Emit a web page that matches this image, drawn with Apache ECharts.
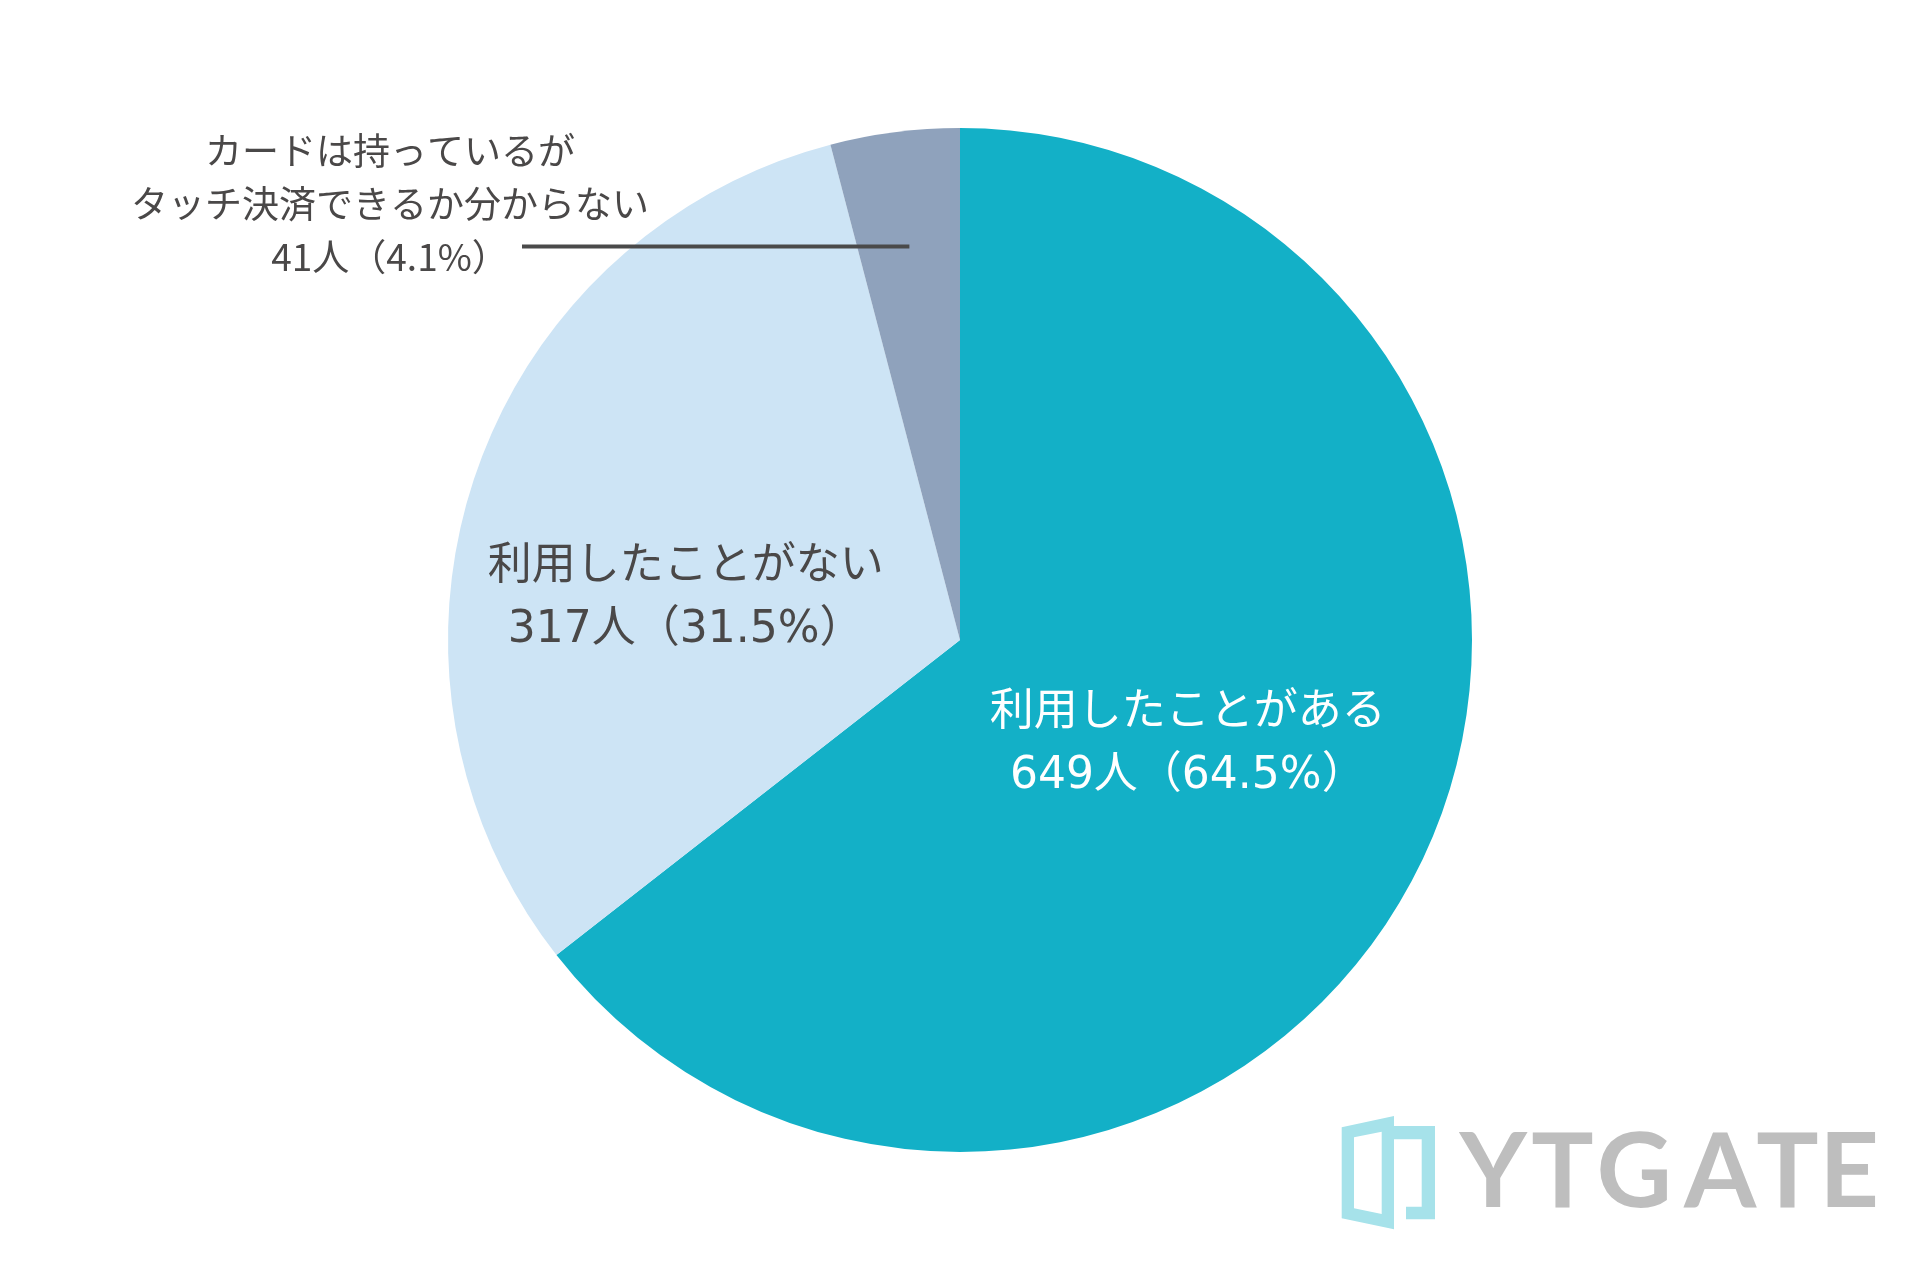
<!DOCTYPE html>
<html>
<head>
<meta charset="utf-8">
<script src="https://cdn.jsdelivr.net/npm/echarts@6/dist/echarts.min.js"></script>
<style>
html,body{margin:0;padding:0;background:#fff;}
#chart{width:1920px;height:1280px;}
</style>
</head>
<body>
<div id="chart"></div>
<script>
const categories = ['利用したことがある', '利用したことがない', 'カードは持っているが\nタッチ決済できるか分からない'];
const counts = [649, 317, 41];
const percents = ['64.5', '31.5', '4.1'];
const colors = ['#13B0C7', '#CDE4F5', '#8FA2BC'];
const labelColors = ['#ffffff', '#4a4848', '#4a4848'];

const chart = echarts.init(document.getElementById('chart'), null, {renderer: 'canvas'});
const total = counts.reduce((a, b) => a + b, 0);

function midFraction(i) {
  let before = 0;
  for (let k = 0; k < i; k++) before += counts[k];
  return (before + counts[i] / 2) / total;
}

const insideFont = "'DejaVu Sans', 'Noto Sans CJK JP', sans-serif";
const outsideFont = "'Noto Sans CJK JP', sans-serif";

const data = categories.map((name, i) => {
  const item = {name: name, value: counts[i], itemStyle: {color: colors[i]}, label: {color: labelColors[i]}};
  if (i === 2) {
    item.label = {position: 'outside', color: labelColors[i], fontSize: 37, lineHeight: 53, fontFamily: outsideFont, align: 'center'};
    item.labelLine = {show: false};
  }
  return item;
});

// leader line for the small slice: from inside the slice (at its mid angle) horizontally to the label
const W = 1920, H = 1280;
const pieR = Math.min(W, H) / 2 * 0.8;
const angG = midFraction(2) * Math.PI * 2;
const lsx = W / 2 + Math.sin(angG) * pieR * 0.775;
const lsy = H / 2 - Math.cos(angG) * pieR * 0.775;

const option = {
  backgroundColor: '#ffffff',
  animation: false,
  series: [{
    type: 'pie',
    center: ['50%', '50%'],
    radius: ['0%', '80%'],
    startAngle: 90,
    clockwise: true,
    avoidLabelOverlap: false,
    itemStyle: {borderWidth: 0},
    label: {
      show: true,
      position: 'inside',
      fontSize: 44,
      lineHeight: 63,
      fontFamily: insideFont,
      align: 'center',
      formatter: function (p) {
        return p.name + '\n' + p.value + '人（' + percents[p.dataIndex] + '%）';
      }
    },
    labelLine: {show: false},
    labelLayout: function (p) {
      if (p.dataIndex === 0) return {dx: -5, dy: -9, hideOverlap: false};
      if (p.dataIndex === 1) return {dx: -29, dy: 42, hideOverlap: false};
      return {x: 390, y: 204, align: 'center', verticalAlign: 'middle', hideOverlap: false};
    },
    data: data
  }],
  graphic: [
    {type: 'polyline', z: 100, shape: {points: [[lsx, lsy], [522, lsy]]}, style: {stroke: '#4a4a4a', lineWidth: 4, fill: null}},
    {type: 'polygon', shape: {points: [[1341.7,1127.3],[1394,1116],[1394,1229.3],[1341.7,1218.3],[1341.7,1127.3],[1354,1137.3],[1354,1208.3],[1381.7,1214],[1381.7,1131.7],[1354,1137.3]]}, style: {fill: '#A6E2EA'}},
    {type: 'polygon', shape: {points: [[1394,1126],[1435,1126],[1435,1219.3],[1406,1219.3],[1406,1206.7],[1421.7,1206.7],[1421.7,1139.3],[1394,1139.3]]}, style: {fill: '#A6E2EA'}},
    ...[['Y',1493.3],['T',1562.5],['G',1634.2],['A',1720],['T',1787.5],['E',1849.2]].map(([ch, x]) => ({
      type: 'text', x: x, y: 1173,
      style: {text: ch, fill: '#BEBEBE', font: "bold 104px Lato, 'Liberation Sans', sans-serif", textAlign: 'center', textVerticalAlign: 'middle'}
    }))
  ]
};
chart.setOption(option);
</script>
</body>
</html>
